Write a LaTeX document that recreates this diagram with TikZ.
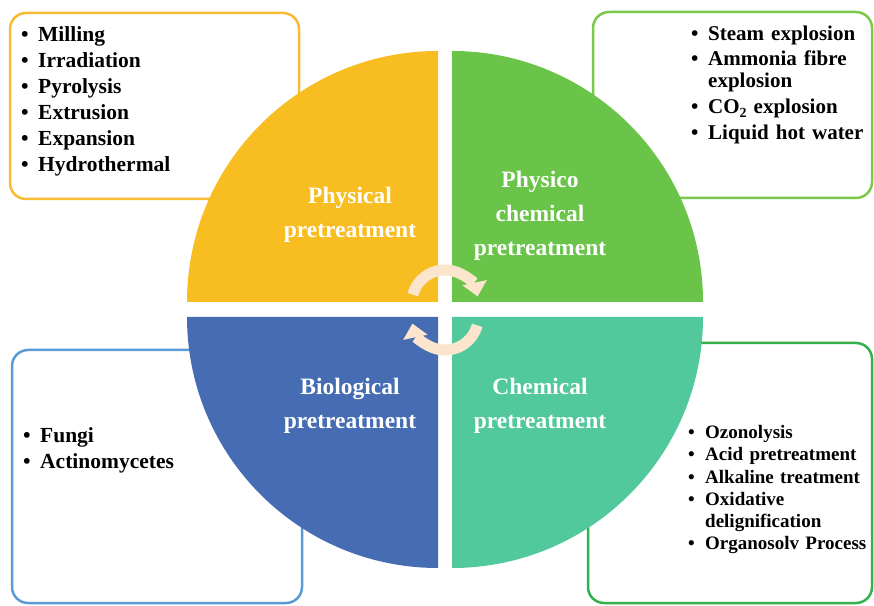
\documentclass[tikz,border=0pt]{standalone}
\usepackage{fontspec}
\setmainfont{Liberation Serif}
\usetikzlibrary{arrows.meta}

% quadrant fills
\definecolor{qyellow}{RGB}{248,189,32}
\definecolor{qgreen}{RGB}{106,196,74}
\definecolor{qblue}{RGB}{70,108,180}
\definecolor{qteal}{RGB}{81,201,157}
% list frames
\definecolor{fyellow}{RGB}{249,187,50}
\definecolor{fgreen}{RGB}{124,200,74}
\definecolor{fblue}{RGB}{91,155,213}
\definecolor{fdgreen}{RGB}{52,176,76}
% cycle arrows
\definecolor{cyclecol}{RGB}{251,229,205}

% bullet item and continuation line
\newcommand\bitem[1]{\makebox[17pt][l]{\textbullet}#1}
\newcommand\bcont[1]{\hspace*{17pt}#1}

\begin{document}
\begin{tikzpicture}[x=1pt,y=1pt,
  frame/.style={line width=2.5pt, rounded corners=16pt},
  quadlabel/.style={anchor=base, inner sep=0pt, text width=200pt, align=center,
    text=white, font=\bfseries\fontsize{23.5}{34}\selectfont},
  listbig/.style={anchor=base west, inner sep=0pt, text width=#1, align=left,
    font=\bfseries\fontsize{21.5}{26}\selectfont},
  listsmall/.style={anchor=base west, inner sep=0pt, text width=#1, align=left,
    font=\bfseries\fontsize{19}{22.5}\selectfont},
  cyclearrow/.style={draw=cyclecol, line width=11pt,
    -{Triangle[width=25pt,length=14pt,line width=0pt]}}
]
\useasboundingbox (0,0) rectangle (874,605);
\fill[white] (0,0) rectangle (874,605);

% list frames (behind the circle)
\draw[frame, fyellow] (10,406) rectangle (299,592);
\draw[frame, fgreen]  (593,407) rectangle (872,593);
\draw[frame, fblue]   (12,2) rectangle (302,255);
\draw[frame, fdgreen] (588,2) rectangle (872,262);

% four quadrants of the circle
\fill[qyellow] (438,303) -- (187,303) arc[start angle=180,end angle=90,radius=251] -- cycle;
\fill[qgreen]  (452,303) -- (452,554) arc[start angle=90,end angle=0,radius=251] -- cycle;
\fill[qblue]   (438,288) -- (187,288) arc[start angle=180,end angle=270,radius=251] -- cycle;
\fill[qteal]   (452,288) -- (703,288) arc[start angle=0,end angle=-90,radius=251] -- cycle;

% cycle arrows in the centre
\draw[cyclearrow] (412.83,310.32) arc[start angle=165,end angle=12,radius=33.3];
\draw[cyclearrow] (477.17,279.68) arc[start angle=-15,end angle=-168,radius=33.3];

% quadrant labels
\node[quadlabel] (phys)  at (350,401) {Physical\\pretreatment};
\node[quadlabel] (physc) at (540,417) {Physico\\chemical\\pretreatment};
\node[quadlabel] (bio)   at (350,211) {Biological\\pretreatment};
\node[quadlabel] (chem)  at (540,211) {Chemical\\pretreatment};

% method lists
\node[listbig=250pt] (physlist) at (21,563) {%
  \bitem{Milling}\\
  \bitem{Irradiation}\\
  \bitem{Pyrolysis}\\
  \bitem{Extrusion}\\
  \bitem{Expansion}\\
  \bitem{Hydrothermal}};

\node[listbig=180pt, font=\bfseries\fontsize{21}{22}\selectfont] (physclist) at (691,564) {%
  \bitem{Steam explosion}\\[3pt]
  \bitem{Ammonia fibre}\\
  \bcont{explosion}\\[4pt]
  \bitem{CO\raisebox{-4pt}{\fontsize{14}{14}\selectfont 2} explosion}\\[4pt]
  \bitem{Liquid hot water}};

\node[listbig=250pt] (biolist) at (23,163) {%
  \bitem{Fungi}\\
  \bitem{Actinomycetes}};

\node[listsmall=185pt] (chemlist) at (688,167) {%
  \bitem{Ozonolysis}\\
  \bitem{Acid pretreatment}\\
  \bitem{Alkaline treatment}\\
  \bitem{Oxidative}\\[-1pt]
  \bcont{delignification}\\
  \bitem{Organosolv Process}};
\end{tikzpicture}
\end{document}
